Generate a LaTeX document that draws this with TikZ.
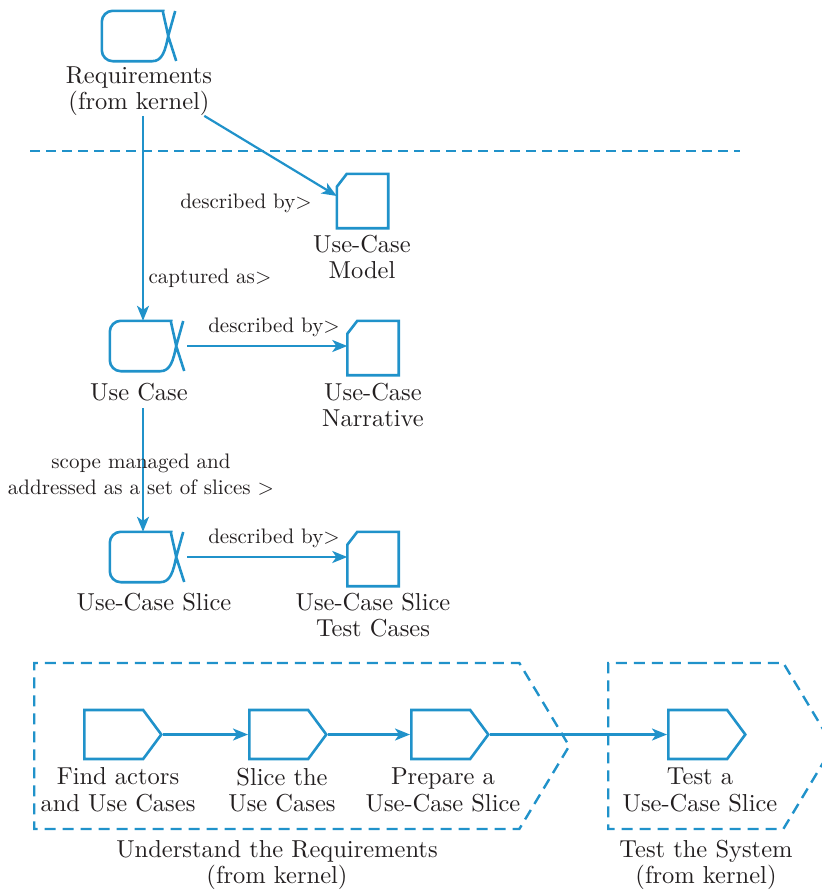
\documentclass[tikz,border=0pt]{standalone}
\usepackage{fontspec}
\setmainfont{lmroman10-regular.otf}
\usepackage{tikz}
\usetikzlibrary{arrows.meta, positioning, calc, shapes.symbols}
\definecolor{essence}{RGB}{32,146,202}
\definecolor{ink}{RGB}{35,31,32}
\tikzset{
  shapeline/.style={draw=essence, line width=2.6pt, line join=miter},
  alpha/.style={minimum width=66pt, minimum height=50pt, inner sep=0pt},
  workprod/.style={minimum width=51pt, minimum height=54pt, inner sep=0pt},
  activity/.style={shapeline, signal, signal to=east, signal pointer angle=107,
                   minimum width=77pt, minimum height=49pt, inner sep=0pt, anchor=west},
  space/.style={draw=essence, line width=2.4pt, dash pattern=on 11pt off 7pt,
                signal, signal to=east, signal pointer angle=118,
                minimum height=166pt, inner sep=0pt, anchor=west},
  flow/.style={-{Stealth[length=15pt, width=12pt, inset=4pt]}, draw=essence, line width=2.2pt},
  lbl/.style={font=\fontsize{24.5}{26.5}\selectfont, text=ink, align=center, inner sep=0pt},
  edgelbl/.style={font=\fontsize{21}{26}\selectfont, text=ink, align=center, inner sep=0pt}
}
% alpha symbol drawn round a (blank) alpha node
\newcommand\alphashape[1]{%
  \draw[shapeline] ($(#1.east)+(7,-25)$) -- (#1.east)
    .. controls ($(#1.east)+(-3,15)$) and ($(#1.south east)+(-6,0)$) .. ($(#1.south east)+(-16,0)$)
    [rounded corners=11pt] -- (#1.south west) -- (#1.north west) -- ($(#1.north east)+(-16,0)$)
    [sharp corners] .. controls ($(#1.north east)+(-6,0)$) and ($(#1.east)+(-3,-15)$) .. (#1.east)
    -- ($(#1.east)+(8,25)$);}
% work product: sheet with its top left corner cut off
\newcommand\wpshape[1]{%
  \draw[shapeline] ($(#1.north west)+(0,13)$) -- ($(#1.north west)+(10,0)$)
    -- (#1.north east) -- (#1.south east) -- (#1.south west) -- cycle;}

\begin{document}
\begin{tikzpicture}[x=1pt, y=-1pt]
  \useasboundingbox (0,0) rectangle (822,892);

  % alphas
  \node[alpha] (req) at (135,36) {};
  \node[lbl] (reqlbl) at (139,91) {Requirements\\(from kernel)};
  \node[alpha] (uc) at (143,346) {};
  \node[lbl] (uclbl) at (139,392) {Use Case};
  \node[alpha] (ucs) at (143,557) {};
  \node[lbl] (ucslbl) at (154,602) {Use-Case Slice};
  \alphashape{req}
  \alphashape{uc}
  \alphashape{ucs}

  % kernel / practice separator
  \draw[draw=essence, line width=2pt, dash pattern=on 10pt off 6pt] (30,151) -- (740,151);

  % work products
  \node[workprod] (model) at (362.5,201) {};
  \node[lbl] (modellbl) at (362,257) {Use-Case\\Model};
  \node[workprod] (narr) at (373,348) {};
  \node[lbl] (narrlbl) at (373,405) {Use-Case\\Narrative};
  \node[workprod] (tcase) at (373,559) {};
  \node[lbl] (tcaselbl) at (373,615) {Use-Case Slice\\Test Cases};
  \wpshape{model}
  \wpshape{narr}
  \wpshape{tcase}

  \draw[flow] ([xshift=-8pt]reqlbl.south east) -- ([yshift=5pt]model.west);
  \node[edgelbl] (dby1) at (246,203) {described by>};
  \draw[flow] (uc.north |- reqlbl.south) -- (uc.north);
  \node[edgelbl] (capt) at (210,278) {captured as>};
  \draw[flow] ([xshift=11pt]uc.east) -- (uc.east -| narr.west);
  \node[edgelbl] (dby2) at (274,327) {described by>};
  \draw[flow] ([yshift=-7pt]ucs.north |- uclbl.south) -- (ucs.north);
  \node[edgelbl] (scope) at (141,475) {scope managed and\\addressed as a set of slices >};
  \draw[flow] ([xshift=11pt]ucs.east) -- (ucs.east -| tcase.west);
  \node[edgelbl] (dby3) at (274,538) {described by>};

  % activity spaces
  \node[space, minimum width=535pt] (understand) at (33,746) {};
  \node[space, minimum width=225pt] (testsys) at (607,746) {};
  \node[lbl] (understandlbl) at (277,865) {Understand the Requirements\\(from kernel)};
  \node[lbl] (testsyslbl) at (706,865) {Test the System\\(from kernel)};

  % activities
  \node[activity] (find) at (83,734.5) {};
  \node[activity] (slice) at (248,734.5) {};
  \node[activity] (prep) at (410,734.5) {};
  \node[activity] (test) at (667,734.5) {};
  \node[lbl] (findlbl) at (118,790) {Find actors\\and Use Cases};
  \node[lbl] (slicelbl) at (282,790) {Slice the\\Use Cases};
  \node[lbl] (preplbl) at (443,790) {Prepare a\\Use-Case Slice};
  \node[lbl] (testlbl) at (700,790) {Test a\\Use-Case Slice};

  \draw[flow] (find) -- (slice);
  \draw[flow] (slice) -- (prep);
  \draw[flow] (prep) -- (test);
\end{tikzpicture}
\end{document}
